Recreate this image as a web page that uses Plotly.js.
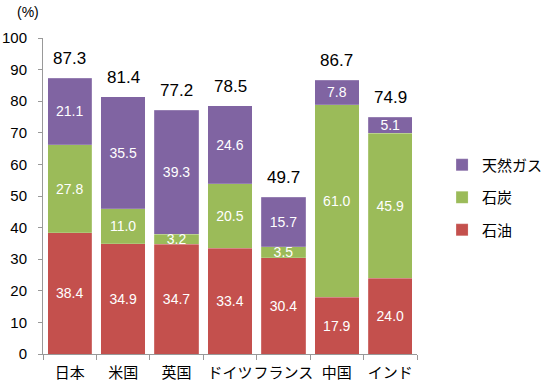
<!DOCTYPE html>
<html><head><meta charset="utf-8">
<script src="https://cdn.plot.ly/plotly-3.0.1.min.js"></script>
<style>html,body{margin:0;padding:0;background:#fff}#c{width:548px;height:385px}</style>
</head><body><div id="c"></div>
<script>
const categories = ['日本','米国','英国','ドイツ','フランス','中国','インド'];
const oil = [38.4, 34.9, 34.7, 33.4, 30.4, 17.9, 24.0];
const coal = [27.8, 11.0, 3.2, 20.5, 3.5, 61.0, 45.9];
const gas = [21.1, 35.5, 39.3, 24.6, 15.7, 7.8, 5.1];
const totals = [87.3, 81.4, 77.2, 78.5, 49.7, 86.7, 74.9];
const yTicks = [0,10,20,30,40,50,60,70,80,90,100];

const FONT = 'Liberation Sans, Arial, Noto Sans CJK JP, sans-serif';
function tr(name, vals, color, grp, rank){
  return {type:'bar', name:name, x:categories, y:vals, legendgroup:grp, legendrank:rank,
    marker:{color:color, line:{color:'rgba(255,255,255,0.35)', width:0.5}},
    text:vals.map(v=>v.toFixed(1)), textposition:'inside', insidetextanchor:'middle',
    textangle:0, constraintext:'none', cliponaxis:false,
    textfont:{color:'#fff', size:14, family:FONT}, hoverinfo:'skip'};
}
const data = [
  tr('石油', oil, '#C4504D', 'a', 3),
  tr('石炭', coal, '#9BBB59', 'b', 2),
  tr('天然ガス', gas, '#8064A2', 'c', 1)
];
const annotations = categories.map((c,i)=>({x:c, y:totals[i], xref:'x', yref:'y',
  text:totals[i].toFixed(1), showarrow:false, yanchor:'bottom', yshift:8,
  font:{size:17, color:'#000', family:FONT}}));
annotations.push({xref:'paper', yref:'paper', x:-0.075, y:1.115, text:'(%)', showarrow:false,
  font:{size:14, color:'#000', family:FONT}});
const layout = {
  width:548, height:385, margin:{l:43, r:131, t:38, b:31, autoexpand:false},
  paper_bgcolor:'#fff', plot_bgcolor:'#fff',
  barmode:'stack', bargap:0.17, showlegend:true,
  font:{family:FONT, color:'#000'},
  xaxis:{type:'category', tickson:'boundaries', ticks:'outside', ticklen:5, tickcolor:'#999',
    tickangle:0, automargin:false,
    showline:true, linecolor:'#999', linewidth:1, showgrid:false, ticklabelstandoff:5,
    tickfont:{size:15, family:'Noto Sans CJK JP, sans-serif', color:'#000'}},
  yaxis:{range:[0,100], tickvals:yTicks, ticks:'outside', ticklen:4, tickcolor:'#999',
    automargin:false,
    showline:true, linecolor:'#999', linewidth:1, showgrid:false, zeroline:false,
    ticklabelstandoff:8, tickfont:{size:15, family:FONT, color:'#000'}},
  legend:{x:1.067, y:0.65, xanchor:'left', yanchor:'top', traceorder:'grouped',
    tracegroupgap:10, itemwidth:30, font:{size:15, family:'Noto Sans CJK JP, sans-serif', color:'#000'}},
  annotations:annotations
};
Plotly.newPlot('c', data, layout, {staticPlot:true});
</script></body></html>
